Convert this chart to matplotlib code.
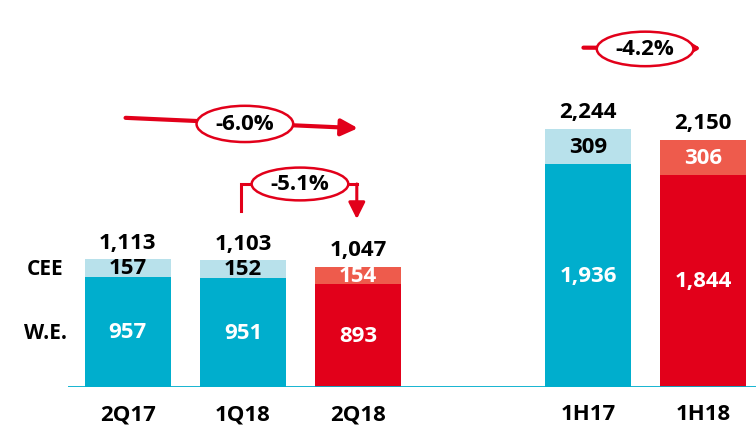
import matplotlib.pyplot as plt
from matplotlib.patches import Ellipse

# data
categories = ["2Q17", "1Q18", "2Q18", "1H17", "1H18"]
positions = [0, 1, 2, 4, 5]
we_values = [957, 951, 893, 1936, 1844]
cee_values = [157, 152, 154, 309, 306]
total_labels = ["1,113", "1,103", "1,047", "2,244", "2,150"]
we_labels = ["957", "951", "893", "1,936", "1,844"]
is_current = [False, False, True, False, True]

BLUE = "#00AECD"
LIGHT_BLUE = "#B8E1EB"
RED = "#E2001A"
SALMON = "#EE5B4C"

plt.rcParams['font.family'] = ['Open Sans', 'DejaVu Sans']
plt.rcParams['font.weight'] = 'bold'

fig = plt.figure(figsize=(7.56, 4.35), dpi=100)
ax = fig.add_axes([0.09, 0.108, 0.91, 0.892])
ax.set_xlim(-0.52, 5.46)
ax.set_ylim(0, 3373)

FS = 16

for i, x in enumerate(positions):
    c1 = RED if is_current[i] else BLUE
    c2 = SALMON if is_current[i] else LIGHT_BLUE
    ax.bar(x, we_values[i], width=0.75, color=c1, zorder=2)
    ax.bar(x, cee_values[i], bottom=we_values[i], width=0.75, color=c2, zorder=2)
    ax.text(x, we_values[i] / 2, we_labels[i], ha='center', va='center',
            color='white', fontsize=FS, fontweight='bold')
    ax.text(x, we_values[i] + cee_values[i] / 2, str(cee_values[i]), ha='center',
            va='center', color='white' if is_current[i] else 'black',
            fontsize=FS, fontweight='bold')
    total = we_values[i] + cee_values[i]
    ax.text(x, total + 55, total_labels[i], ha='center', va='bottom',
            fontsize=FS, fontweight='bold')
    ax.text(x, -140, categories[i], ha='center', va='top',
            fontsize=FS, fontweight='bold')

# row labels
ax.text(-0.72, 1030, "CEE", ha='center', va='center', fontsize=15,
        fontweight='bold', clip_on=False)
ax.text(-0.72, 470, "W.E.", ha='center', va='center', fontsize=15,
        fontweight='bold', clip_on=False)

# baseline
ax.axhline(0, color=BLUE, lw=2, zorder=3)
for s in ax.spines.values():
    s.set_visible(False)
ax.set_xticks([])
ax.set_yticks([])

# -6.0% arrow
ax.annotate("", xy=(2.0, 2250), xytext=(-0.02, 2340),
            arrowprops=dict(arrowstyle='-|>,head_length=1.0,head_width=0.5',
                            color=RED, lw=3, shrinkA=0, shrinkB=0))
ax.add_patch(Ellipse((1.017, 2287), 0.84, 315, facecolor='white',
                     edgecolor=RED, lw=1.8, zorder=4))
ax.text(1.017, 2287, "-6.0%", ha='center', va='center', fontsize=FS,
        fontweight='bold', zorder=5)

# -5.1% bracket
ax.plot([0.983, 0.983, 1.99], [1530, 1765, 1765], color=RED, lw=2.2,
        solid_joinstyle='miter')
ax.annotate("", xy=(1.99, 1460), xytext=(1.99, 1765),
            arrowprops=dict(arrowstyle='-|>,head_length=1.0,head_width=0.5',
                            color=RED, lw=2.2, shrinkA=0, shrinkB=0))
ax.add_patch(Ellipse((1.496, 1765), 0.84, 285, facecolor='white',
                     edgecolor=RED, lw=1.8, zorder=4))
ax.text(1.496, 1765, "-5.1%", ha='center', va='center', fontsize=FS,
        fontweight='bold', zorder=5)

# -4.2% arrow
ax.annotate("", xy=(4.98, 2945), xytext=(3.96, 2950),
            arrowprops=dict(arrowstyle='-|>,head_length=0.6,head_width=0.35',
                            color=RED, lw=3, shrinkA=0, shrinkB=0))
ax.add_patch(Ellipse((4.496, 2939), 0.84, 300, facecolor='white',
                     edgecolor=RED, lw=1.8, zorder=4))
ax.text(4.496, 2939, "-4.2%", ha='center', va='center', fontsize=FS,
        fontweight='bold', zorder=5)

fig.savefig("out.png", dpi=100)
